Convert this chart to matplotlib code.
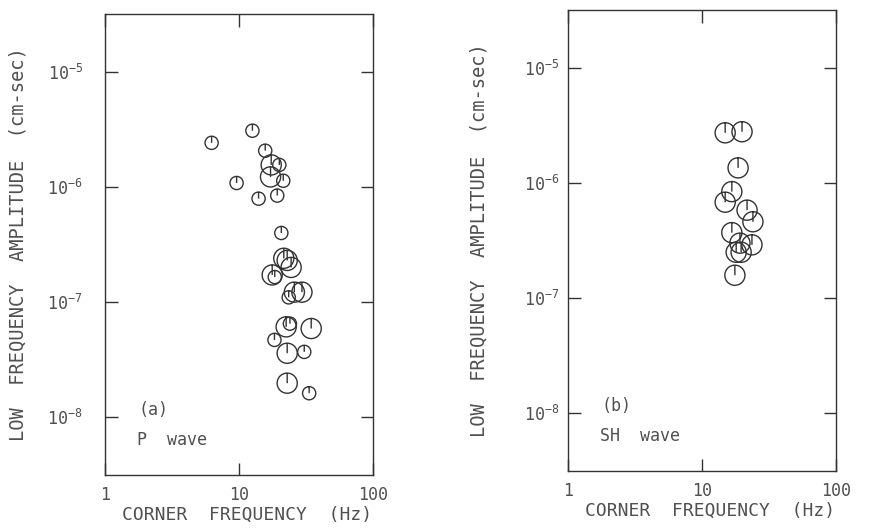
import numpy as np
import matplotlib
matplotlib.use("Agg")
import matplotlib.pyplot as plt
from matplotlib.path import Path
from matplotlib.ticker import FixedLocator, NullLocator

# P wave: corner frequency (Hz), low-frequency amplitude (cm-sec), marker size class
p_freq = [6.25, 12.6, 9.6, 15.7, 17.4, 20.0, 17.2, 21.4, 19.3, 14.0,
          20.7, 22.9, 21.6, 24.5, 17.7, 18.5, 25.9, 29.5, 23.5, 22.5,
          34.6, 24.0, 18.4, 22.9, 30.7, 22.9, 33.4]
p_amp = [2.41e-6, 3.07e-6, 1.08e-6, 2.06e-6, 1.55e-6, 1.55e-6, 1.22e-6, 1.13e-6, 8.4e-7, 7.9e-7,
         3.98e-7, 2.3e-7, 2.4e-7, 2.0e-7, 1.72e-7, 1.65e-7, 1.22e-7, 1.22e-7, 1.1e-7, 6.1e-8,
         5.9e-8, 6.5e-8, 4.7e-8, 3.6e-8, 3.7e-8, 1.98e-8, 1.62e-8]
p_big = [0, 0, 0, 0, 1, 0, 1, 0, 0, 0,
         0, 1, 1, 1, 1, 0, 1, 1, 0, 1,
         1, 0, 0, 1, 0, 1, 0]

# SH wave
sh_freq = [14.9, 19.9, 18.6, 16.7, 14.9, 21.7, 24.0, 16.7, 19.2, 23.6, 19.6, 18.0, 17.6]
sh_amp = [2.72e-6, 2.78e-6, 1.35e-6, 8.4e-7, 6.8e-7, 5.8e-7, 4.6e-7, 3.7e-7, 3.0e-7, 2.9e-7,
          2.5e-7, 2.5e-7, 1.58e-7]
sh_big = [1, 1, 1, 1, 1, 1, 1, 1, 1, 1, 1, 1, 1]

x_ticks = [1, 10, 100]
x_labels = ["1", "10", "100"]
y_ticks = [1e-8, 1e-7, 1e-6, 1e-5]
y_labels = [r"$\mathregular{10^{-8}}$", r"$\mathregular{10^{-7}}$",
            r"$\mathregular{10^{-6}}$", r"$\mathregular{10^{-5}}$"]

plt.rcParams["font.family"] = ["DejaVu Sans Mono"]
ink = "#333333"
txt = "#505050"

# circle with a stroke from the top down to the centre
circ = Path.unit_circle()
stroke = Path([(0, 1), (0, 0)], [Path.MOVETO, Path.LINETO])
mark = Path.make_compound_path(circ, stroke)

fig = plt.figure(figsize=(8.69, 5.29), dpi=100)
ax1 = fig.add_axes([0.1208, 0.1021, 0.3084, 0.8715])
ax2 = fig.add_axes([0.6536, 0.1096, 0.3084, 0.8715])


def panel(ax, fx, amp, big, tag, name, ypad, ylab_x, xlab_y):
    sizes = [14.5 ** 2 if b else 9.5 ** 2 for b in big]
    ax.scatter(fx, amp, s=sizes, marker=mark, facecolors="none",
               edgecolors=ink, linewidths=1.0)
    ax.set_xscale("log")
    ax.set_yscale("log")
    ax.set_xlim(1, 100)
    ax.set_ylim(10 ** -8.5, 10 ** -4.5)
    ax.xaxis.set_major_locator(FixedLocator(x_ticks))
    ax.set_xticklabels(x_labels)
    ax.yaxis.set_major_locator(FixedLocator(y_ticks))
    ax.set_yticklabels(y_labels)
    ax.xaxis.set_minor_locator(NullLocator())
    ax.yaxis.set_minor_locator(NullLocator())
    ax.tick_params(direction="in", length=9, width=1.0, color=ink,
                   top=True, right=True, labelsize=12, labelcolor=txt)
    ax.tick_params(axis="x", pad=8)
    ax.tick_params(axis="y", pad=ypad)
    for sp in ax.spines.values():
        sp.set_color(ink)
        sp.set_linewidth(1.0)
    ax.set_xlabel("CORNER  FREQUENCY  (Hz)", fontsize=13, color=txt)
    ax.xaxis.set_label_coords(0.53, xlab_y)
    ax.set_ylabel("LOW  FREQUENCY  AMPLITUDE  (cm-sec)", fontsize=13.5, color=txt)
    ax.yaxis.set_label_coords(ylab_x, 0.5)
    ax.text(0.125, 0.13, tag, transform=ax.transAxes, fontsize=12, color=txt)
    ax.text(0.12, 0.065, name, transform=ax.transAxes, fontsize=12, color=txt)


panel(ax1, p_freq, p_amp, p_big, "(a)", "P  wave", 16, -0.29, -0.066)
panel(ax2, sh_freq, sh_amp, sh_big, "(b)", "SH  wave", 6, -0.295, -0.068)

fig.savefig("out.png", dpi=100)
